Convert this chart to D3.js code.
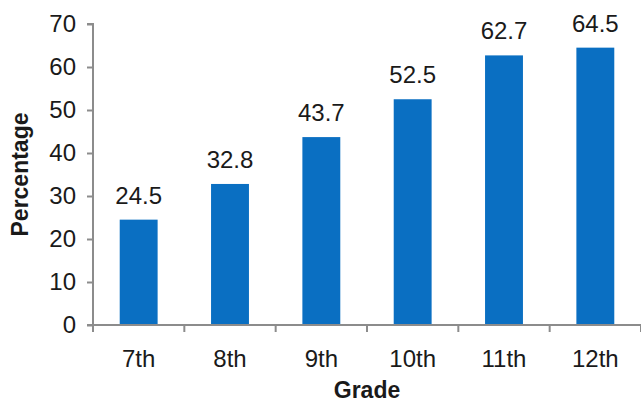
<!DOCTYPE html>
<html>
<head>
<meta charset="utf-8">
<script src="https://cdn.jsdelivr.net/npm/d3@7"></script>
<style>
  body { margin: 0; background: #fff; }
  text { font-family: "Liberation Sans", Arial, sans-serif; fill: #1a1a1a; }
</style>
</head>
<body>
<div id="chart"></div>
<script>
var grades = ["7th", "8th", "9th", "10th", "11th", "12th"];
var percents = [24.5, 32.8, 43.7, 52.5, 62.7, 64.5];
var yTicks = [0, 10, 20, 30, 40, 50, 60, 70];

var width = 641, height = 407;
var mLeft = 93, mRight = 641, mTop = 24, mBottom = 325;

var svg = d3.select("#chart")
  .append("svg")
  .attr("width", width)
  .attr("height", height);

var x = d3.scaleBand()
  .domain(grades)
  .range([mLeft, mRight])
  .paddingInner(0.585)
  .paddingOuter(0.2925);

var y = d3.scaleLinear()
  .domain([0, 70])
  .range([mBottom, mTop]);

// bars
svg.selectAll("rect.bar")
  .data(percents)
  .enter().append("rect")
  .attr("class", "bar")
  .attr("x", function(d, i) { return x(grades[i]); })
  .attr("y", function(d) { return y(d); })
  .attr("width", x.bandwidth())
  .attr("height", function(d) { return y(0) - y(d); })
  .style("fill", "#0a6fc2");

// value labels
svg.selectAll("text.val")
  .data(percents)
  .enter().append("text")
  .attr("class", "val")
  .attr("x", function(d, i) { return x(grades[i]) + x.bandwidth() / 2; })
  .attr("y", function(d) { return y(d) - 16; })
  .attr("text-anchor", "middle")
  .style("font-size", "24px")
  .text(function(d) { return d.toFixed(1); });

// y axis
var yAxis = d3.axisLeft(y).tickValues(yTicks).tickSize(6).tickPadding(11);
var gy = svg.append("g")
  .attr("transform", "translate(" + mLeft + ",0)")
  .call(yAxis);
gy.selectAll("path, line").style("stroke", "#8c8c8c").style("stroke-width", 2);
gy.select(".domain").attr("d", "M-6," + mTop + "H0V" + mBottom);
gy.selectAll("text").style("font-size", "24px").style("fill", "#1a1a1a")
  .style("font-family", "Liberation Sans, Arial, sans-serif");

// x axis: ticks at band boundaries
var gx = svg.append("g")
  .attr("transform", "translate(0," + mBottom + ")");
gx.append("line")
  .attr("x1", mLeft - 6).attr("x2", mRight)
  .attr("y1", 0).attr("y2", 0)
  .style("stroke", "#8c8c8c").style("stroke-width", 2);
var bounds = grades.map(function(g) { return x(g) - x.step() * x.paddingInner() / 2; });
bounds.push(mRight);
gx.selectAll("line.tk")
  .data(bounds)
  .enter().append("line")
  .attr("class", "tk")
  .attr("x1", function(d) { return d; }).attr("x2", function(d) { return d; })
  .attr("y1", 0).attr("y2", 7)
  .style("stroke", "#8c8c8c").style("stroke-width", 2);
gx.selectAll("text.lab")
  .data(grades)
  .enter().append("text")
  .attr("class", "lab")
  .attr("x", function(d) { return x(d) + x.bandwidth() / 2; })
  .attr("y", 42)
  .attr("text-anchor", "middle")
  .style("font-size", "24px")
  .text(function(d) { return d; });

// axis titles
svg.append("text")
  .attr("x", (mLeft + mRight) / 2)
  .attr("y", 398)
  .attr("text-anchor", "middle")
  .style("font-size", "23px")
  .style("font-weight", "bold")
  .text("Grade");

svg.append("text")
  .attr("transform", "translate(28," + ((mTop + mBottom) / 2) + ") rotate(-90)")
  .attr("text-anchor", "middle")
  .style("font-size", "23px")
  .style("font-weight", "bold")
  .text("Percentage");
</script>
</body>
</html>
